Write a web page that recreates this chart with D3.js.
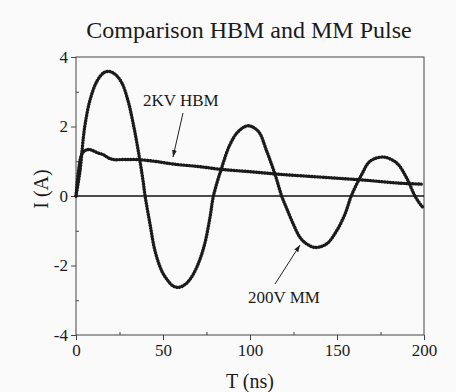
<!DOCTYPE html>
<html>
<head>
<meta charset="utf-8">
<script src="https://cdn.jsdelivr.net/npm/d3@7"></script>
<style>
  body { margin: 0; background: #fafafa; }
  svg { display: block; }
  text { font-family: "Liberation Serif", "Times New Roman", serif; fill: #1a1a1a; }
  .axis path, .axis line { stroke: #444; }
</style>
</head>
<body>
<div id="chart"></div>
<script>
// values (t in ns, I in A)
var mmTime = [0, 2.3, 4.2, 5.2, 8, 12, 16, 19.5, 23, 26.4, 30, 32.8, 35.6, 38.5, 39.7, 42.5, 45.4, 49.2, 52, 55.5, 58.8, 62, 65.5, 69.4, 73.6, 77, 79, 83.7, 88.5, 93.3, 99, 104.8, 109.6, 114.4, 118.2, 121, 124.9, 128.7, 132.6, 137.4, 144, 149.8, 154.6, 158.2, 164.2, 169, 176.6, 184.3, 190, 194.8, 198.7, 200];
var mmCurrent = [0, 0.72, 1.67, 2.05, 2.75, 3.3, 3.55, 3.58, 3.48, 3.25, 2.72, 2.1, 1.35, 0.45, 0, -0.8, -1.58, -2.15, -2.38, -2.58, -2.63, -2.57, -2.4, -2.05, -1.45, -0.62, 0, 0.81, 1.48, 1.86, 2.02, 1.86, 1.29, 0.62, 0, -0.35, -0.81, -1.19, -1.38, -1.48, -1.38, -1.0, -0.52, 0, 0.62, 1.0, 1.12, 0.95, 0.52, 0, -0.29, -0.35];

var hbmTime = [0, 1.5, 3.3, 5, 7.1, 10, 12.5, 15.7, 18.5, 21.5, 28, 34.9, 45, 55.7, 70, 82.8, 100, 115.5, 130, 147.7, 165, 186, 199.4];
var hbmCurrent = [0, 0.75, 1.2, 1.3, 1.34, 1.3, 1.24, 1.19, 1.1, 1.05, 1.05, 1.05, 1.0, 0.92, 0.85, 0.77, 0.7, 0.63, 0.58, 0.52, 0.46, 0.37, 0.34];

var xTicks = [0, 50, 100, 150, 200];
var yTicks = [-4, -2, 0, 2, 4];

var W = 456, H = 392;
var margin = { left: 76, right: 32, top: 57, bottom: 57 };

var svg = d3.select('#chart').append('svg')
  .attr('width', W)
  .attr('height', H);

var x = d3.scaleLinear().domain([0, 200]).range([margin.left, W - margin.right]);
var y = d3.scaleLinear().domain([-4, 4]).range([H - margin.bottom, margin.top]);

// title
svg.append('text')
  .attr('x', 249)
  .attr('y', 38)
  .attr('text-anchor', 'middle')
  .style('font-size', '24px')
  .text('Comparison HBM and MM Pulse');

// frame
svg.append('rect')
  .attr('x', x(0))
  .attr('y', y(4))
  .attr('width', x(200) - x(0))
  .attr('height', y(-4) - y(4))
  .attr('fill', 'none')
  .attr('stroke', '#444');

// minor ticks
svg.append('g').attr('class', 'axis')
  .attr('transform', 'translate(0,' + y(-4) + ')')
  .call(d3.axisBottom(x).tickValues([25, 75, 125, 175]).tickSize(-3).tickFormat(''))
  .select('.domain').remove();
svg.append('g').attr('class', 'axis')
  .attr('transform', 'translate(' + x(0) + ',0)')
  .call(d3.axisLeft(y).tickValues([-3, -1, 1, 3]).tickSize(-3).tickFormat(''))
  .select('.domain').remove();

// x axis
var gx = svg.append('g').attr('class', 'axis')
  .attr('transform', 'translate(0,' + y(-4) + ')')
  .call(d3.axisBottom(x).tickValues(xTicks).tickSize(5).tickPadding(4));
gx.select('.domain').remove();
gx.selectAll('text').style('font-size', '17px').attr('fill', '#1a1a1a');

// y axis (plain hyphen for negatives, as in the picture)
var gy = svg.append('g').attr('class', 'axis')
  .attr('transform', 'translate(' + x(0) + ',0)')
  .call(d3.axisLeft(y).tickValues(yTicks).tickSize(5).tickPadding(3)
    .tickFormat(function(d) { return String(d); }));
gy.select('.domain').remove();
gy.selectAll('text').style('font-size', '17px').attr('fill', '#1a1a1a');

// axis titles
svg.append('text')
  .attr('x', x(100))
  .attr('y', 388)
  .attr('text-anchor', 'middle')
  .style('font-size', '20px')
  .text('T (ns)');
svg.append('text')
  .attr('transform', 'translate(48,' + 189 + ') rotate(-90)')
  .attr('text-anchor', 'middle')
  .style('font-size', '20px')
  .text('I (A)');

// zero line
svg.append('line')
  .attr('x1', x(0)).attr('x2', x(200))
  .attr('y1', y(0)).attr('y2', y(0))
  .attr('stroke', '#111')
  .attr('stroke-width', 1.3);

// curves
var line = d3.line()
  .x(function(d) { return x(d[0]); })
  .y(function(d) { return y(d[1]); })
  .curve(d3.curveCatmullRom.alpha(0.5));

var series = [d3.zip(mmTime, mmCurrent), d3.zip(hbmTime, hbmCurrent)];
svg.selectAll('path.curve').data(series).enter().append('path')
  .attr('class', 'curve')
  .attr('d', line)
  .attr('fill', 'none')
  .attr('stroke', '#1a1a1a')
  .attr('stroke-width', 3.4)
  .attr('stroke-linecap', 'round')
  .attr('stroke-dasharray', '0.4,2.4');

// annotations
svg.append('defs').append('marker')
  .attr('id', 'arrow')
  .attr('viewBox', '0 0 10 10')
  .attr('refX', 10).attr('refY', 5)
  .attr('markerWidth', 7).attr('markerHeight', 7)
  .attr('orient', 'auto')
  .append('path')
  .attr('d', 'M0,1.5 L10,5 L0,8.5 Z')
  .attr('fill', '#222');

svg.append('text')
  .attr('x', 143).attr('y', 106)
  .style('font-size', '17px')
  .text('2KV HBM');
svg.append('line')
  .attr('x1', 183).attr('y1', 113)
  .attr('x2', 173).attr('y2', 157)
  .attr('stroke', '#222')
  .attr('marker-end', 'url(#arrow)');

svg.append('text')
  .attr('x', 248).attr('y', 303)
  .style('font-size', '17px')
  .text('200V MM');
svg.append('line')
  .attr('x1', 275).attr('y1', 284)
  .attr('x2', 300).attr('y2', 245)
  .attr('stroke', '#222')
  .attr('marker-end', 'url(#arrow)');
</script>
</body>
</html>
